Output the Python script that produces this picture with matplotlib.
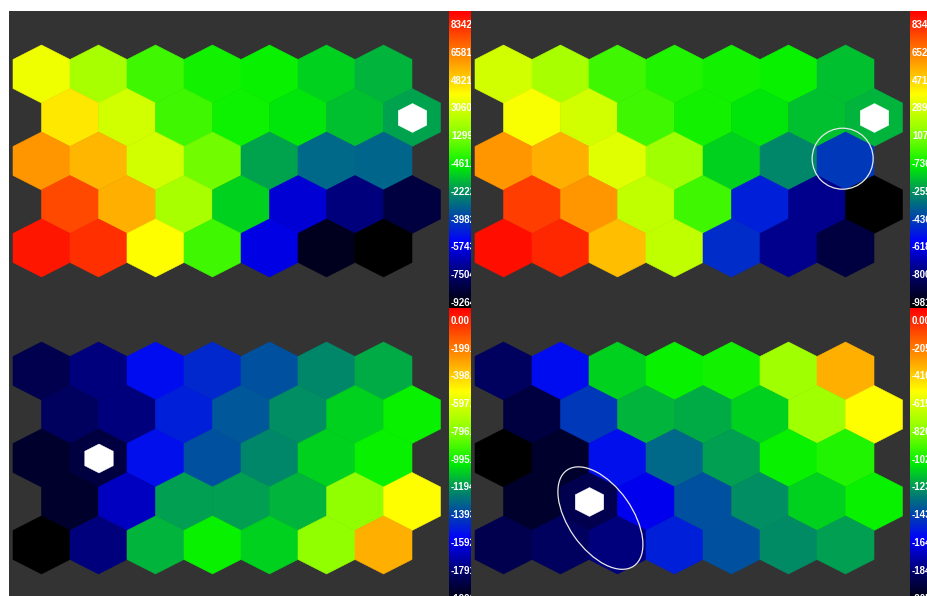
import numpy as np
import matplotlib
matplotlib.use("Agg")
import matplotlib.pyplot as plt
from matplotlib.colors import LinearSegmentedColormap
from matplotlib.collections import PolyCollection
from matplotlib.patches import Ellipse

# position of every cell on the colour scale (0 = black bottom, 1 = red top)
# rows from top to bottom, 7 columns each
niveles_tl = [
    [0.703, 0.624, 0.53, 0.4925, 0.485, 0.45, 0.425],
    [0.745, 0.668, 0.53, 0.49, 0.47, 0.435, 0.41],
    [0.834, 0.80, 0.668, 0.5675, 0.41, 0.345, 0.34],
    [0.92, 0.807, 0.624, 0.45, 0.19, 0.124, 0.067],
    [0.975, 0.9475, 0.72, 0.53, 0.20, 0.033, 0.0],
]
niveles_tr = [
    [0.668, 0.624, 0.53, 0.505, 0.4925, 0.485, 0.435],
    [0.712, 0.668, 0.53, 0.4925, 0.47, 0.435, 0.425],
    [0.834, 0.807, 0.686, 0.615, 0.45, 0.381, 0.29],
    [0.93, 0.834, 0.65, 0.53, 0.26, 0.136, 0.0],
    [0.9825, 0.956, 0.79, 0.65, 0.275, 0.136, 0.067],
]
niveles_bl = [
    [0.083, 0.124, 0.235, 0.27, 0.32, 0.381, 0.415],
    [0.10, 0.124, 0.26, 0.325, 0.39, 0.45, 0.485],
    [0.05, 0.067, 0.24, 0.32, 0.381, 0.45, 0.485],
    [0.05, 0.173, 0.405, 0.405, 0.425, 0.598, 0.72],
    [0.0, 0.124, 0.425, 0.485, 0.45, 0.598, 0.807],
]
niveles_br = [
    [0.10, 0.235, 0.45, 0.485, 0.4925, 0.615, 0.807],
    [0.067, 0.29, 0.425, 0.415, 0.45, 0.615, 0.72],
    [0.0, 0.05, 0.24, 0.345, 0.405, 0.485, 0.505],
    [0.05, 0.083, 0.209, 0.32, 0.39, 0.45, 0.485],
    [0.083, 0.10, 0.124, 0.26, 0.32, 0.385, 0.405],
]

# colour bar labels, top to bottom
etiquetas_tl = ["8342", "6581", "4821", "3060", "1299", "-461.0", "-2222", "-3982", "-5743", "-7504", "-9264"]
etiquetas_tr = ["8342", "6526", "4711", "2895", "1079", "-736.0", "-2552", "-4368", "-6184", "-8000", "-9816"]
etiquetas_bl = ["0.00", "-199.0", "-398.0", "-597.0", "-796.0", "-995.0", "-1194", "-1393", "-1592", "-1791", "-1990"]
etiquetas_br = ["0.00", "-205.0", "-410.0", "-615.0", "-820.0", "-1025", "-1230", "-1435", "-1640", "-1845", "-2050"]

# marked cells (row, col)
marca_tl = (1, 6)
marca_tr = (1, 6)
marca_bl = (2, 1)
marca_br = (3, 1)

cmap = LinearSegmentedColormap.from_list("som", [
    (0.00, "#000000"), (0.10, "#000060"), (0.22, "#0000ff"), (0.30, "#0040b0"),
    (0.39, "#009060"), (0.48, "#00f000"), (0.58, "#80ff00"), (0.72, "#ffff00"),
    (0.86, "#ff8000"), (1.00, "#ff0000")])

W, H = 927, 596
PX = 57.0          # hex width in pixels
ALTO = 58.0 / PX   # hex height in data units
PASO = 0.763       # vertical step between rows
BG = "#333333"


def hexagono(cx, cy, escala=1.0):
    a = 0.5 * escala
    h = ALTO / 2 * escala
    return [(cx, cy - h), (cx + a, cy - h / 2), (cx + a, cy + h / 2),
            (cx, cy + h), (cx - a, cy + h / 2), (cx - a, cy - h / 2)]


def centro(f, c):
    return c + 0.5 * (f % 2), f * PASO


def sin_ejes(ax):
    ax.set_xticks([])
    ax.set_yticks([])
    for s in ax.spines.values():
        s.set_visible(False)


def panel(x0, y0, w, niveles, etiquetas, marca, desde):
    hpx = 297
    ax = fig.add_axes([x0 / W, (H - y0 - hpx) / H, w / W, hpx / H])
    ax.set_facecolor(BG)
    ax.set_xlim(-32.5 / PX, (w - 32.5) / PX)
    ax.set_ylim((hpx - 63) / PX, -63 / PX)
    sin_ejes(ax)
    datos = np.array(niveles)
    polis, vals = [], []
    for f in range(datos.shape[0]):
        for c in range(datos.shape[1]):
            polis.append(hexagono(*centro(f, c)))
            vals.append(datos[f, c])
    pc = PolyCollection(polis, array=np.array(vals), cmap=cmap, edgecolors="face", linewidths=0.4)
    pc.set_clim(0, 1)
    ax.add_collection(pc)
    ax.add_collection(PolyCollection([hexagono(*centro(*marca), escala=0.5)],
                                     facecolors="white", edgecolors="white", linewidths=0.3))

    # colour bar with the labels written inside it
    cax = fig.add_axes([(x0 + w) / W, (H - y0 - hpx) / H, 22 / W, hpx / H])
    grad = np.linspace(1, 0, 256).reshape(-1, 1)
    cax.imshow(grad, aspect="auto", cmap=cmap, extent=[0, 1, 0, 1], vmin=0, vmax=1)
    cax.set_xlim(0, 1)
    cax.set_ylim(0, 1)
    sin_ejes(cax)
    for i, t in enumerate(etiquetas):
        cax.text(2 / 22, 1 - (desde + i * 27.8) / hpx, t, color="white", fontsize=7,
                 fontweight="bold", family="Liberation Sans", va="center", ha="left", clip_on=True)
    return ax


fig = plt.figure(figsize=(W / 100, H / 100), dpi=100, facecolor="white")

ax_tl = panel(9, 11, 440, niveles_tl, etiquetas_tl, marca_tl, 14)
ax_tr = panel(471, 11, 439, niveles_tr, etiquetas_tr, marca_tr, 14)
ax_bl = panel(9, 308, 440, niveles_bl, etiquetas_bl, marca_bl, 12.7)
ax_br = panel(471, 308, 439, niveles_br, etiquetas_br, marca_br, 12.7)

# highlighted neurons
cx, cy = centro(2, 6)
ax_tr.add_patch(Ellipse((cx - 0.05, cy - 0.04), 1.07, 1.07, fill=False, edgecolor="#e8e8e8", linewidth=0.9))
x1, y1 = centro(3, 1)
x2, y2 = centro(4, 2)
ax_br.add_patch(Ellipse(((x1 + x2) / 2 - 0.05, (y1 + y2) / 2 - 0.09), 2.05, 1.12, angle=55,
                        fill=False, edgecolor="#e8e8e8", linewidth=0.9))

fig.savefig("out.png", dpi=100, facecolor="white")
